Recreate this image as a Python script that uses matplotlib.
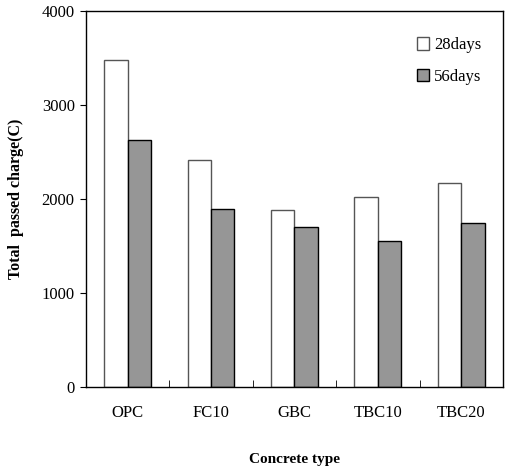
import numpy as np
import matplotlib.pyplot as plt

plt.rcParams['font.family'] = ['Liberation Serif', 'DejaVu Serif']

concrete = ['OPC', 'FC10', 'GBC', 'TBC10', 'TBC20']
days28 = [3475, 2415, 1885, 2020, 2175]
days56 = [2630, 1895, 1700, 1550, 1740]

x = np.arange(len(concrete))
w = 0.28

fig = plt.figure(figsize=(5.05, 4.66), dpi=100)
ax = fig.add_axes([0.170, 0.1695, 0.826, 0.807])

ax.bar(x - w/2, days28, w, color='white', edgecolor='#555555', linewidth=1, label='28days')
ax.bar(x + w/2, days56, w, color='#969696', edgecolor='black', linewidth=1, label='56days')

ax.set_xlim(-0.5, len(concrete) - 0.5)
ax.set_ylim(0, 4000)
ax.set_yticks([0, 1000, 2000, 3000, 4000])
ax.tick_params(axis='y', direction='out', length=4, labelsize=12, pad=4)

# category labels without ticks, boundary ticks pointing in
ax.set_xticks(x)
ax.set_xticklabels(concrete, fontsize=12)
ax.tick_params(axis='x', length=0, pad=13)
ax.set_xticks(np.arange(0.5, len(concrete) - 0.5, 1), minor=True)
ax.tick_params(axis='x', which='minor', direction='in', length=5)

for s in ax.spines.values():
    s.set_linewidth(1)

ax.set_xlabel('Concrete type', fontsize=11, fontweight='bold', labelpad=23)
ax.set_ylabel('Total  passed charge(C)', fontsize=11.5, fontweight='bold', labelpad=13)

ax.legend(loc='upper right', bbox_to_anchor=(0.985, 0.97), frameon=False, fontsize=12,
          handlelength=0.75, handleheight=0.75, handletextpad=0.3, labelspacing=0.95)

fig.savefig('out.png', dpi=100)
